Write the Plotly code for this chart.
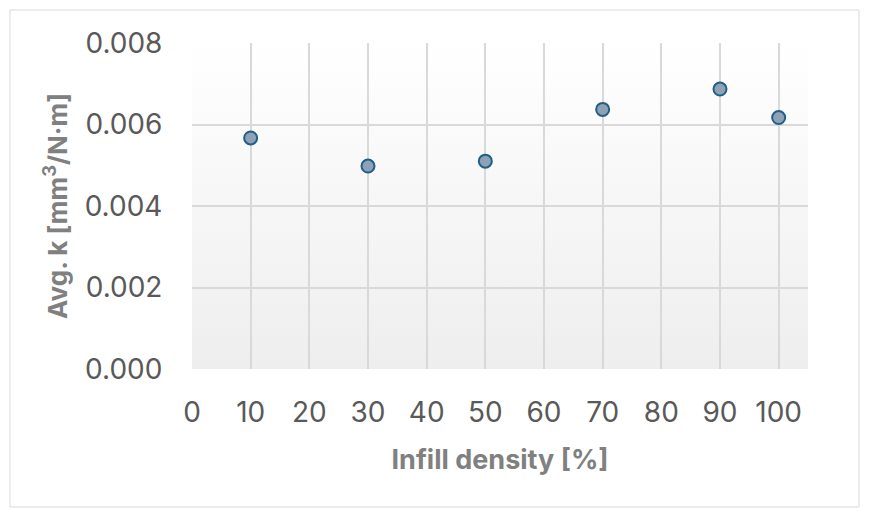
import base64
import plotly.graph_objects as go

# Infill density vs average specific wear rate
infill = [10, 30, 50, 70, 90, 100]
avg_k = [0.00567, 0.00498, 0.00510, 0.00637, 0.00687, 0.00617]

x_ticks = [0, 10, 20, 30, 40, 50, 60, 70, 80, 90, 100]
y_ticks = [0, 0.002, 0.004, 0.006, 0.008]

x_range = [0, 105]
y_range = [0, 0.008]

font_name = "Inter"
tick_grey = "#595959"
title_grey = "#808080"
grid_grey = "#d9d9d9"

# plot area background: white at top fading to light grey, as an svg image
# so the gridlines still sit on top of it
svg = ('<svg xmlns="http://www.w3.org/2000/svg" width="100" height="100" preserveAspectRatio="none">'
       '<defs><linearGradient id="g" x1="0" y1="0" x2="0" y2="1">'
       '<stop offset="0" stop-color="#ffffff"/><stop offset="1" stop-color="#eeeeee"/>'
       '</linearGradient></defs><rect width="100" height="100" fill="url(#g)"/></svg>')
bg_src = "data:image/svg+xml;base64," + base64.b64encode(svg.encode()).decode()

fig = go.Figure()

fig.add_trace(go.Scatter(
    x=infill, y=avg_k, mode='markers',
    marker=dict(size=13, color='#8da2b6', line=dict(color='#215f85', width=2)),
    showlegend=False,
))

# page body has an 8px margin, so the figure is 8px smaller than the window
fig.update_layout(
    width=861, height=509,
    margin=dict(l=184, r=61, t=35, b=148),
    paper_bgcolor='white',
    plot_bgcolor='white',
    font=dict(family=font_name, color=tick_grey),
    xaxis=dict(
        range=x_range, tickvals=x_ticks, showgrid=True, gridcolor=grid_grey, gridwidth=1.5,
        zeroline=False, showline=False, ticks='outside', ticklen=18,
        tickcolor='rgba(0,0,0,0)', tickfont=dict(size=28, color=tick_grey),
        title=dict(text='<b>Infill density [%]</b>', font=dict(size=27, color=title_grey), standoff=22),
    ),
    yaxis=dict(
        range=y_range, tickvals=y_ticks, tickformat='.3f', showgrid=True, gridcolor=grid_grey,
        gridwidth=1.5, zeroline=False, showline=False, ticks='outside', ticklen=23,
        tickcolor='rgba(0,0,0,0)', tickfont=dict(size=28, color=tick_grey),
        title=dict(text='<b>Avg. k [mm<sup>3</sup>/N·m]</b>', font=dict(size=26, color=title_grey), standoff=9),
    ),
    images=[dict(
        source=bg_src, xref='x', yref='y', x=x_range[0], y=y_range[1],
        sizex=x_range[1] - x_range[0], sizey=y_range[1] - y_range[0],
        sizing='stretch', layer='below', xanchor='left', yanchor='top',
    )],
    shapes=[dict(
        type='rect', xref='paper', yref='paper',
        x0=(10 - 192) / 616, x1=(859 - 192) / 616,
        y0=(369 - 507) / 326, y1=(369 - 10) / 326,
        line=dict(color='#d9d9d9', width=1), layer='below',
    )],
)

fig.write_html("out.html")
